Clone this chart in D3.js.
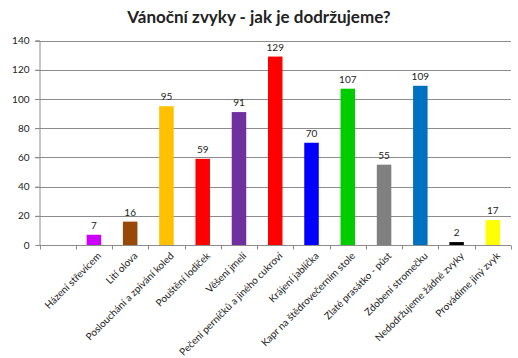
<!DOCTYPE html>
<html><head><meta charset="utf-8">
<script src="https://cdn.jsdelivr.net/npm/d3@7"></script>
<style>body{margin:0;background:#fff;} svg{display:block;} text{font-family:Lato,"Open Sans",sans-serif;}</style>
</head><body>
<svg id="c" width="518" height="358"></svg>
<script>
const categories = ["", "Házení střevícem", "Lití olova", "Poslouchání a zpívání koled", "Pouštění lodiček", "Věšení jmelí", "Pečení perníčků a jiného cukroví", "Krájení jablíčka", "Kapr na štědrovečerním stole", "Zlaté prasátko - půst", "Zdobení stromečku", "Nedodržujeme žádné zvyky", "Provádíme jiný zvyk"];
const values = [null, 7, 16, 95, 59, 91, 129, 70, 107, 55, 109, 2, 17];
const colors = ["#fff", "#CC00FF", "#984807", "#FFC000", "#FF0000", "#7030A0", "#FF0000", "#0000FF", "#00CC00", "#808080", "#0070C0", "#000000", "#FFFF00"];
const yTicks = [0, 20, 40, 60, 80, 100, 120, 140];
const title = "Vánoční zvyky - jak je dodržujeme?";

const svg = d3.select("#c");
const x = d3.scaleBand().domain(categories.map((d,i)=>i)).range([39.5, 511]).paddingInner(0.6).paddingOuter(0.3);
const xb = d3.scaleBand().domain(categories.map((d,i)=>i)).range([39.5, 511]);
const y = d3.scaleLinear().domain([0, 140]).range([245, 40.5]);

svg.append("text").attr("x", 259).attr("y", 23).attr("text-anchor", "middle")
  .attr("font-size", 17).attr("font-weight", "bold").attr("fill", "#222").text(title);

// gridlines
svg.append("g").selectAll("line").data(yTicks.filter(d=>d>0)).join("line")
  .attr("x1", 35).attr("x2", 511).attr("y1", d=>Math.round(y(d))+0.5).attr("y2", d=>Math.round(y(d))+0.5)
  .attr("stroke", "#8c8c8c").attr("stroke-width", 1);

// y axis
const ya = svg.append("g").attr("transform", "translate(39.5,0)")
  .call(d3.axisLeft(y).tickValues(yTicks).tickSize(4).tickPadding(6).tickFormat(d3.format("d")));
ya.select(".domain").attr("stroke", "#8c8c8c");
ya.selectAll(".tick line").attr("stroke", "#8c8c8c");
ya.selectAll("text").attr("font-size", 10).attr("fill", "#222").style("font-family", "Lato, sans-serif");

// bars
svg.append("g").selectAll("rect").data(values.map((v,i)=>({v,i})).filter(d=>d.v!=null)).join("rect")
  .attr("x", d=>x(d.i)).attr("width", x.bandwidth())
  .attr("y", d=>y(d.v)).attr("height", d=>y(0)-y(d.v)).attr("fill", (d)=>colors[d.i]);

// value labels
svg.append("g").selectAll("text").data(values.map((v,i)=>({v,i})).filter(d=>d.v!=null)).join("text")
  .attr("x", d=>x(d.i)+x.bandwidth()/2).attr("y", d=>y(d.v)-6).attr("text-anchor", "middle")
  .attr("font-size", 10).attr("fill", "#222").text(d=>d.v);

// x axis
const xa = svg.append("g").attr("transform", "translate(0,245.5)");
xa.append("line").attr("x1", 39.5).attr("x2", 511).attr("stroke", "#8c8c8c");
xa.selectAll(".tk").data(d3.range(categories.length+1)).join("line").attr("class","tk")
  .attr("x1", i=>Math.round(39.5 + i*xb.step())+0.5).attr("x2", i=>Math.round(39.5 + i*xb.step())+0.5)
  .attr("y1", 0).attr("y2", 4).attr("stroke", "#8c8c8c");
xa.selectAll("text").data(categories.map((c,i)=>({c,i})).filter(d=>d.c)).join("text")
  .attr("transform", d=>`translate(${xb(d.i)+xb.bandwidth()/2+3},6) rotate(-45)`)
  .attr("text-anchor", "end").attr("dy", "0.71em").attr("font-size", 10).attr("fill", "#222").text(d=>d.c);
</script>
</body></html>
